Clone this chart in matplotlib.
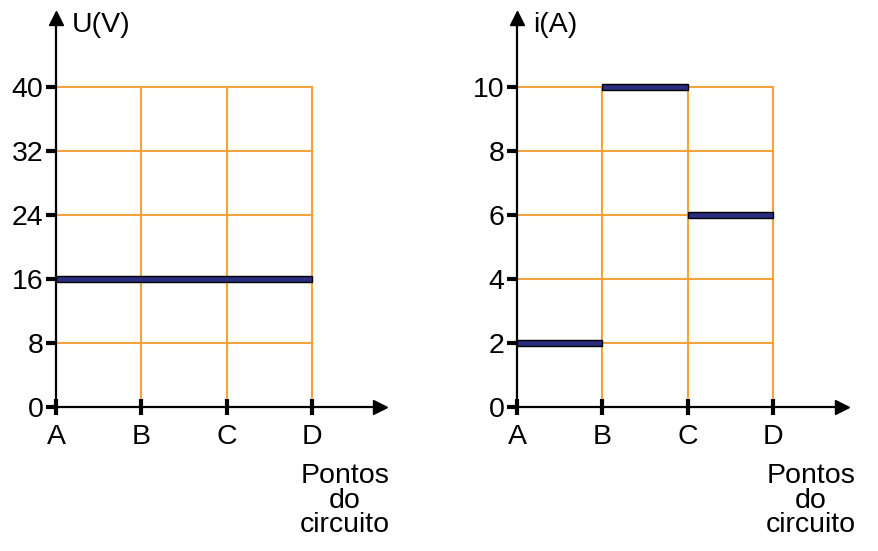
import matplotlib.pyplot as plt
from matplotlib import rcParams

rcParams["font.family"] = ["Liberation Sans", "DejaVu Sans"]

points = ["A", "B", "C", "D"]
u_ticks = [0, 8, 16, 24, 32, 40]
i_ticks = [0, 2, 4, 6, 8, 10]
# segments: (start index, end index, value)
u_segments = [(0, 3, 16)]
i_segments = [(0, 1, 2), (1, 2, 10), (2, 3, 6)]

W, H = 879, 551
orange = "#F5A23A"
navy = "#2B2E80"
fs = 20.5


def panel(x0, x1, y_top, ymax_val, yticks, segs, ylabel):
    # pixel geometry: origin at (x0, 407), point spacing 85.3 px, ymax_val at y=87
    y0 = 407
    px_x = 85.3
    px_y = (407 - 87) / ymax_val
    ax = fig.add_axes([x0 / W, (H - y0) / H, (x1 - x0) / W, (y0 - y_top) / H])
    ax.set_xlim(0, (x1 - x0) / px_x)
    ax.set_ylim(0, (y0 - y_top) / px_y)
    ax.patch.set_alpha(0)
    for s in ["top", "right"]:
        ax.spines[s].set_visible(False)
    for s in ["left", "bottom"]:
        ax.spines[s].set_linewidth(1.6)
    ax.plot(1, 0, ">k", transform=ax.get_yaxis_transform(), clip_on=False, ms=10)
    ax.plot(0, 1, "^k", transform=ax.get_xaxis_transform(), clip_on=False, ms=10)

    ax.set_xticks(range(len(points)))
    ax.set_xticklabels(points, fontsize=fs)
    ax.tick_params(axis="x", direction="inout", length=11, width=3, pad=7)
    ax.set_yticks(yticks)
    ax.set_yticklabels([str(v) for v in yticks], fontsize=fs)
    ax.tick_params(axis="y", direction="out", length=7, width=3, pad=2)

    top = yticks[-1]
    for v in yticks[1:]:
        ax.plot([0, len(points) - 1], [v, v], color=orange, lw=1.5, zorder=1)
    for k in range(1, len(points)):
        ax.plot([k, k], [0, top], color=orange, lw=1.5, zorder=1)

    th = 6 / px_y
    for a, b, v in segs:
        ax.bar(a, th, width=b - a, bottom=v - th / 2, align="edge",
               color=navy, edgecolor="black", lw=1, zorder=3)

    ax.text(16 / px_x, (y0 - 25) / px_y, ylabel,
            fontsize=fs, va="center", ha="left")
    return ax


fig = plt.figure(figsize=(W / 100, H / 100), dpi=100)

axl = panel(56, 380, 18, 40, u_ticks, u_segments, "U(V)")
axr = panel(517, 842, 18, 10, i_ticks, i_segments, "i(A)")

fig.text(345 / W, 1 - 463 / H, "Pontos\ndo\ncircuito", fontsize=fs,
         ha="center", va="top", linespacing=0.93)
fig.text(811 / W, 1 - 463 / H, "Pontos\ndo\ncircuito", fontsize=fs,
         ha="center", va="top", linespacing=0.93)

fig.savefig("out.png", dpi=100)
